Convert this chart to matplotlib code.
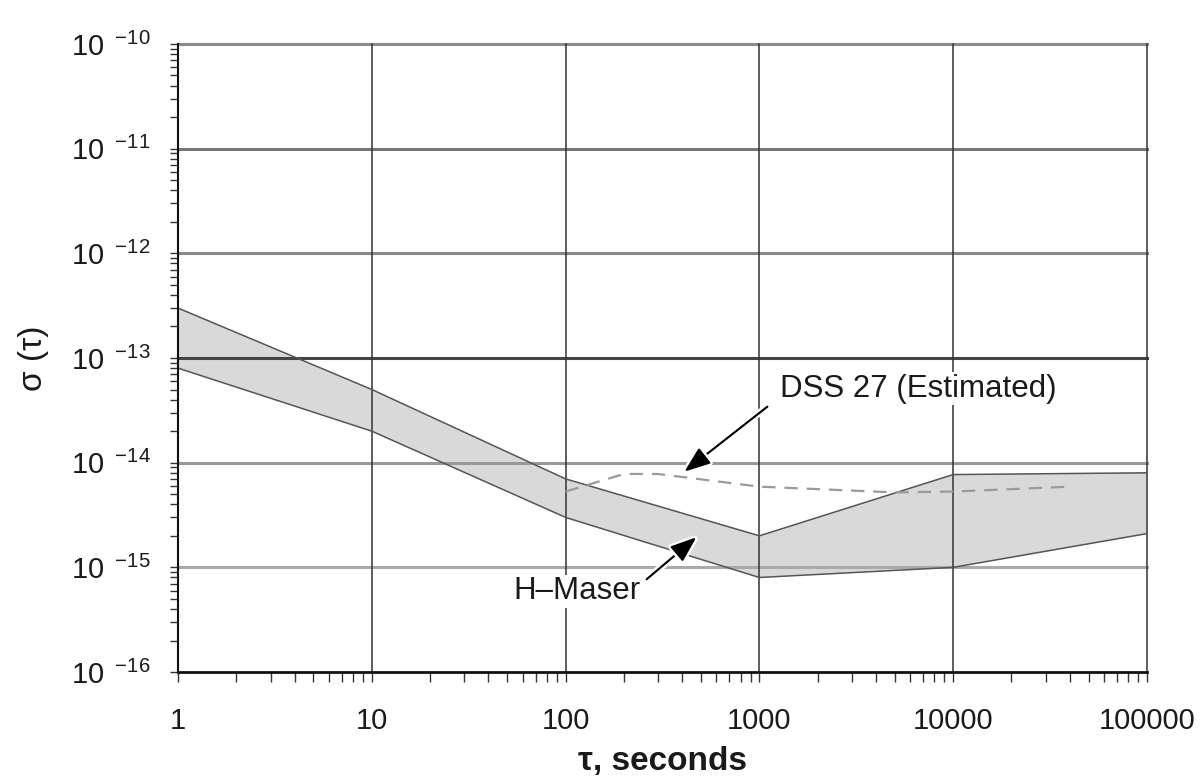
import math
import matplotlib
matplotlib.use("Agg")
import matplotlib.pyplot as plt
from matplotlib.ticker import FixedLocator, FuncFormatter, LogLocator, NullFormatter
import matplotlib.patheffects as pe

plt.rcParams['font.family'] = ['Liberation Sans', 'DejaVu Sans']
plt.rcParams['mathtext.fontset'] = 'custom'
plt.rcParams['mathtext.rm'] = 'Liberation Sans'
plt.rcParams['mathtext.it'] = 'Liberation Sans:italic'
plt.rcParams['mathtext.bf'] = 'Liberation Sans:bold'

# ---- data ----
tau_band = [1, 10, 100, 1000, 10000, 100000]
band_upper = [3.0e-13, 5.0e-14, 7.0e-15, 2.0e-15, 7.7e-15, 8.0e-15]
band_lower = [8.0e-14, 2.0e-14, 3.0e-15, 8.0e-16, 1.0e-15, 2.1e-15]

tau_dss = [100, 200, 300, 1000, 5000, 10000, 40000]
dss_sigma = [5.3e-15, 7.8e-15, 7.8e-15, 5.9e-15, 5.2e-15, 5.3e-15, 5.9e-15]

x_ticks = [1, 10, 100, 1000, 10000, 100000]
x_tick_labels = ["1", "10", "100", "1000", "10000", "100000"]
y_exponents = [-16, -15, -14, -13, -12, -11, -10]
y_ticks = [10.0 ** e for e in y_exponents]

fig = plt.figure(figsize=(12.03, 7.77), dpi=100)
ax = fig.add_axes([0.148, 0.1351, 0.8054, 0.8083])
ax.set_xscale('log')
ax.set_yscale('log')
ax.set_xlim(1, 100000)
ax.set_ylim(1e-16, 1e-10)

# band
ax.fill_between(tau_band, band_lower, band_upper, facecolor='#d9d9d9',
                edgecolor='none', zorder=1)
ax.plot(tau_band, band_upper, color='#555555', lw=1.1, zorder=3)
ax.plot(tau_band, band_lower, color='#555555', lw=1.1, zorder=3)

# grid lines
hcolors = {-16: '#111111', -15: '#aaaaaa', -14: '#999999', -13: '#444444',
           -12: '#888888', -11: '#777777', -10: '#8a8a8a'}
for e, yv in zip(y_exponents, y_ticks):
    if e == -16:
        continue
    ax.axhline(yv, color=hcolors[e], lw=2.2, zorder=2, clip_on=False)
for xv in x_ticks[1:]:
    ax.axvline(xv, color='#333333', lw=1.1, zorder=2, clip_on=False)

# DSS 27 dashed
ax.plot(tau_dss, dss_sigma, color='#9a9a9a', lw=1.6, ls=(0, (6, 4)), zorder=4)

# spines
for s in ['top', 'right']:
    ax.spines[s].set_visible(False)
ax.spines['left'].set_color('#111111')
ax.spines['left'].set_linewidth(1.5)
ax.spines['bottom'].set_color('#111111')
ax.spines['bottom'].set_linewidth(2.0)
ax.spines['left'].set_zorder(5)
ax.spines['bottom'].set_zorder(5)


def xfmt(v, p):
    iv = int(round(v))
    return x_tick_labels[x_ticks.index(iv)] if iv in x_ticks else ""


def yfmt(v, p):
    n = int(round(-math.log10(v)))
    return r'$10^{\enspace\,{-}%d}$' % n


ax.xaxis.set_major_locator(FixedLocator(x_ticks))
ax.xaxis.set_major_formatter(FuncFormatter(xfmt))
ax.xaxis.set_minor_locator(LogLocator(base=10, subs=range(2, 10), numticks=50))
ax.xaxis.set_minor_formatter(NullFormatter())
ax.yaxis.set_major_locator(FixedLocator(y_ticks))
ax.yaxis.set_major_formatter(FuncFormatter(yfmt))
ax.yaxis.set_minor_locator(LogLocator(base=10, subs=range(2, 10), numticks=50))
ax.yaxis.set_minor_formatter(NullFormatter())

ax.tick_params(axis='x', which='both', direction='out', length=7, width=1.0,
               color='#333333', labelsize=21, pad=18, labelcolor='#1a1a1a')
ax.tick_params(axis='y', which='both', direction='out', length=5.5, width=1.0,
               color='#333333', labelsize=21, pad=14, labelcolor='#1a1a1a')

ax.set_xlabel('τ, seconds', fontsize=24, fontweight='bold', color='#1a1a1a', labelpad=8)
ax.set_ylabel('σ (τ)', fontsize=24, color='#1a1a1a', labelpad=16)

# annotations
white = [pe.withStroke(linewidth=5, foreground='white')]
ax.text(6600, 5.1e-14, 'DSS 27 (Estimated)', fontsize=22.5, color='#1a1a1a',
        ha='center', va='center', zorder=6,
        bbox=dict(facecolor='white', edgecolor='none', pad=1))
ax.annotate('', xy=(410, 8.2e-15), xytext=(1100, 3.43e-14),
            arrowprops=dict(arrowstyle='-|>,head_length=0.8,head_width=0.3',
                            color='black', lw=1.5, mutation_scale=20,
                            shrinkA=0, shrinkB=0, path_effects=white),
            zorder=6)
ax.text(114, 5.9e-16, 'H–Maser', fontsize=22.5, color='#1a1a1a',
        ha='center', va='center', zorder=6,
        bbox=dict(facecolor='white', edgecolor='none', pad=1))
ax.annotate('', xy=(473, 1.94e-15), xytext=(262, 7.7e-16),
            arrowprops=dict(arrowstyle='-|>,head_length=0.8,head_width=0.3',
                            color='black', lw=1.5, mutation_scale=20,
                            shrinkA=0, shrinkB=0, path_effects=white),
            zorder=6)

fig.savefig('out.png', dpi=100)
